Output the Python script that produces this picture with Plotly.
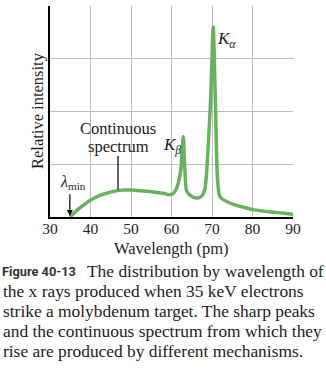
import plotly.graph_objects as go

# Data
wavelength = [35, 36, 37, 38, 40, 42, 44, 46, 48, 50, 52, 54, 56, 58, 59.5, 60.5, 61.5, 62.3, 62.9,
              63.3, 63.7, 64.5, 65.5, 66.5, 67.5, 68.3, 69.0, 69.7, 70.3, 70.8, 71.3, 71.8, 72.5,
              74, 76, 78, 80, 84, 88, 90]
intensity = [0.0, 0.08, 0.15, 0.21, 0.32, 0.40, 0.45, 0.49, 0.51, 0.51, 0.50, 0.49, 0.47, 0.45, 0.42,
             0.45, 0.60, 0.90, 1.52, 0.90, 0.50, 0.42, 0.37, 0.36, 0.40, 0.55, 1.25, 2.3, 3.6,
             2.3, 0.8, 0.42, 0.34, 0.28, 0.22, 0.18, 0.14, 0.10, 0.07, 0.05]
x_ticks = [30, 40, 50, 60, 70, 80, 90]
y_grid = [0, 1, 2, 3, 4]

caption_lines = [
    "The distribution by wavelength of",
    "the x rays produced when 35 keV electrons",
    "strike a molybdenum target. The sharp peaks",
    "and the continuous spectrum from which they",
    "rise are produced by different mechanisms.",
]

SERIF = "Liberation Serif, Times New Roman, serif"
GREEN = "#67b35d"
TXT = "#222222"

fig = go.Figure()
fig.add_trace(go.Scatter(x=wavelength, y=intensity, mode="lines",
                         line=dict(color=GREEN, width=3.5, shape="spline", smoothing=0.6),
                         hoverinfo="skip", showlegend=False))

W, H = 326, 375
L, R, T, B = 50, 33, 6, 158
pw, ph = W - L - R, H - T - B

def px(xp):
    return (xp - L) / pw

def py(yp):
    return (T + ph - yp) / ph

fig.update_layout(
    width=W, height=H, margin=dict(l=L, r=R, t=T, b=B),
    paper_bgcolor="white", plot_bgcolor="white",
    xaxis=dict(range=[30, 90], tickvals=x_ticks, showgrid=True, gridcolor="#bdbdbd", gridwidth=1,
               showline=True, linecolor="black", linewidth=1.5, ticks="", zeroline=False,
               ticklabelstandoff=-3,
               tickfont=dict(family=SERIF, size=15.5, color=TXT), fixedrange=True),
    yaxis=dict(range=[0, 4], tickvals=y_grid, showticklabels=False, showgrid=True, gridcolor="#bdbdbd",
               gridwidth=1, showline=True, linecolor="black", linewidth=1.5, ticks="", zeroline=False,
               fixedrange=True),
    showlegend=False,
)

def note(text, x, y, size=15, xanchor="center", ref="data", **kw):
    d = dict(text=text, x=x, y=y, showarrow=False, xanchor=xanchor, yanchor="middle",
             font=dict(family=kw.pop("family", SERIF), size=size, color=kw.pop("color", TXT)))
    if ref == "paper":
        d.update(xref="paper", yref="paper")
    d.update(kw)
    return d

ann = []
# axis titles
ann.append(note("Wavelength (pm)", px(171), py(248), size=16.5, ref="paper"))
ann.append(note("Relative intensity", px(37), py(111), size=16.5, ref="paper", textangle=-90))
# chart labels
ann.append(note("<i>K</i><sub><i>α</i></sub>", 73.7, 3.35, size=17))
ann.append(note("<i>K</i><sub><i>β</i></sub>", 60.2, 1.35, size=17))
ann.append(note("Continuous", 46.8, 1.67, size=16.5))
ann.append(note("spectrum", 46.8, 1.33, size=16.5))
ann.append(note("<i>λ</i><sub>min</sub>", 35.8, 0.66, size=16))
ann.append(dict(text="", x=34.9, y=0.02, ax=34.9, ay=0.46, axref="x", ayref="y",
                showarrow=True, arrowhead=2, arrowsize=1, arrowwidth=1.2, arrowcolor="black"))
# caption
cap_y = [271, 291, 311, 331, 351]
ann.append(note("<b>Figure 40-13</b>", px(0), py(cap_y[0]), size=12.8, xanchor="left", ref="paper",
                family="Liberation Sans Narrow, Roboto, Liberation Sans, sans-serif",
                color="#333333"))
ann.append(note(caption_lines[0], px(326), py(cap_y[0]), size=17.4, xanchor="right", ref="paper"))
for i, line in enumerate(caption_lines[1:], start=1):
    ann.append(note(line, px(1), py(cap_y[i]), size=17.4, xanchor="left", ref="paper"))
fig.update_layout(annotations=ann)

fig.add_shape(type="line", x0=46.8, x1=46.8, y0=0.52, y1=1.16, xref="x", yref="y",
              line=dict(color="black", width=1.2))

fig.write_html("out.html")
